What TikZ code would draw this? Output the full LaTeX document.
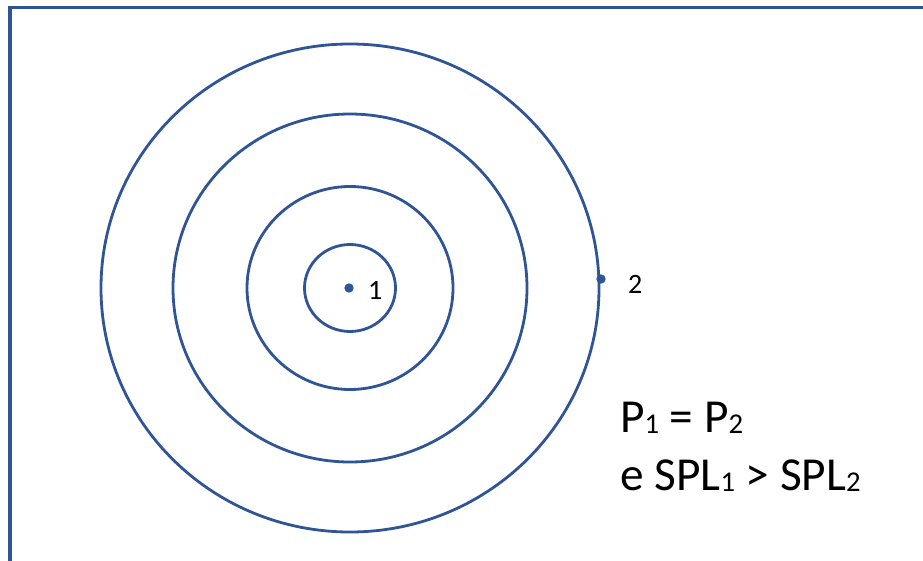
\documentclass[tikz,border=0pt]{standalone}
\usepackage{fontspec}
\setmainfont{Carlito}
\usetikzlibrary{positioning}
\definecolor{ringBlue}{HTML}{2F5597}

% small digits, as the drawing writes them
\newcommand{\lowsub}[1]{\raisebox{-0.03em}{\fontsize{21.5}{21.5}\selectfont #1}}

\begin{document}
\begin{tikzpicture}[
    x=0.75pt, y=-0.75pt,
    frame/.style={draw=ringBlue, line width=2.6pt},
    ring/.style={draw=ringBlue, line width=2.1pt},
    dot/.style={circle, fill=ringBlue, inner sep=0pt, minimum size=7pt},
    lbl/.style={inner sep=0pt, font=\fontsize{21}{25}\selectfont},
    eqn/.style={inner sep=0pt, font=\fontsize{35.5}{42}\selectfont}
  ]
  \useasboundingbox (0,0) rectangle (923,560);
  \clip (0,0) rectangle (923,560);
  \draw[frame] (10,7.5) rectangle (945,585);

  % rings round the source
  \foreach \rx/\ry in {249/244, 177/174, 103/101.5, 45.5/43.5}
    \draw[ring] (350,288) ellipse [x radius=\rx, y radius=\ry];

  \node[dot] (p1) at (349,288) {};
  \node[lbl, right=10.5pt of p1, yshift=-2.2pt] (n1) {1};
  \node[dot] (p2) at (601,279) {};
  \node[lbl, right=16.5pt of p2, yshift=-3.7pt] (n2) {2};

  \node[eqn, anchor=base west] (eq1) at (620,432) {P\lowsub{1} = P\lowsub{2}};
  \node[eqn, anchor=base west] (eq2) at ([yshift=-43.5pt]eq1.base west) {e SPL\lowsub{1} > SPL\lowsub{2}};
\end{tikzpicture}
\end{document}
